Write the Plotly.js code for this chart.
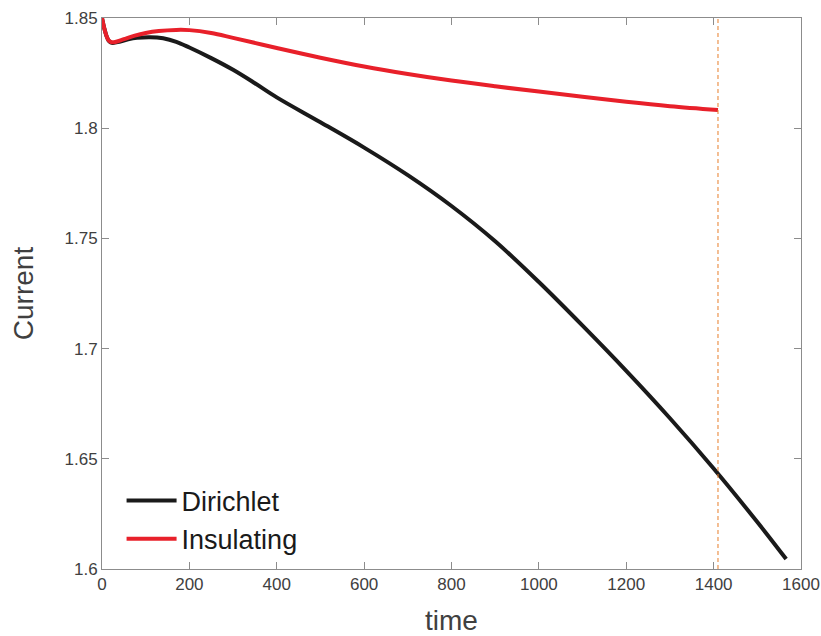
<!DOCTYPE html>
<html>
<head>
<meta charset="utf-8">
<script src="https://cdn.plot.ly/plotly-3.0.1.min.js"></script>
<style>html,body{margin:0;padding:0;background:#fff;}#chart{width:821px;height:636px;}</style>
</head>
<body>
<div id="chart"></div>
<script>
const dirichletTime = [0, 5, 10, 15, 20, 25, 40, 60, 80, 110, 140, 170, 200, 250, 300, 350, 400, 500, 600, 700, 800, 900, 1000, 1100, 1200, 1300, 1400, 1500, 1566];
const dirichletCurrent = [1.8500, 1.8455, 1.8420, 1.8398, 1.8389, 1.8387, 1.8392, 1.8403, 1.8410, 1.8413, 1.8408, 1.8392, 1.8366, 1.8318, 1.8265, 1.8204, 1.8140, 1.8027, 1.7912, 1.7787, 1.7647, 1.7487, 1.7302, 1.7104, 1.6899, 1.6684, 1.6456, 1.6213, 1.6045];
const insulatingTime = [0, 5, 10, 15, 20, 25, 30, 50, 75, 100, 130, 170, 200, 250, 300, 400, 500, 600, 700, 800, 900, 1000, 1100, 1200, 1300, 1410];
const insulatingCurrent = [1.8500, 1.8455, 1.8420, 1.8399, 1.8392, 1.8390, 1.8391, 1.8404, 1.8420, 1.8432, 1.8441, 1.8446, 1.8445, 1.8432, 1.8410, 1.8364, 1.8320, 1.8280, 1.8246, 1.8216, 1.8190, 1.8166, 1.8143, 1.8120, 1.8100, 1.8083];
const markerTime = [1410];
const xTicks = [0, 200, 400, 600, 800, 1000, 1200, 1400, 1600];
const yTicks = [1.6, 1.65, 1.7, 1.75, 1.8, 1.85];

const font = "'Liberation Sans', Arial, Helvetica, sans-serif";
const axisCommon = {
  showgrid: false, zeroline: false, showline: true, mirror: 'ticks',
  linecolor: '#8c8c8c', linewidth: 1, ticks: 'inside', ticklen: 7, tickcolor: '#8c8c8c',
  tickfont: {family: font, size: 17, color: '#404040'}
};
const data = [
  {x: dirichletTime, y: dirichletCurrent, mode: 'lines', name: 'Dirichlet', line: {color: '#1a1a1a', width: 4, shape: 'spline', smoothing: 1}},
  {x: insulatingTime, y: insulatingCurrent, mode: 'lines', name: 'Insulating', line: {color: '#e8202a', width: 4, shape: 'spline', smoothing: 1}}
];
const layout = {
  width: 821, height: 636,
  margin: {l: 102, r: 20, t: 18, b: 67},
  paper_bgcolor: '#fff', plot_bgcolor: '#fff',
  showlegend: true,
  legend: {x: 0.028, y: 0.01, xanchor: 'left', yanchor: 'bottom', bgcolor: 'rgba(0,0,0,0)',
    font: {family: font, size: 27, color: '#1a1a1a'}, itemwidth: 50, tracegroupgap: 0},
  xaxis: Object.assign({}, axisCommon, {range: [0, 1600], tickvals: xTicks, ticktext: xTicks.map(String),
    title: {text: 'time', font: {family: font, size: 28, color: '#404040'}, standoff: 24}}),
  yaxis: Object.assign({}, axisCommon, {range: [1.6, 1.85], tickvals: yTicks, ticktext: yTicks.map(v => String(v)),
    title: {text: 'Current', font: {family: font, size: 28, color: '#404040'}, standoff: 22}}),
  shapes: markerTime.map(t => ({type: 'line', xref: 'x', yref: 'paper', x0: t, x1: t, y0: 0, y1: 1,
    line: {color: '#e87d2a', width: 1, dash: '4px,3px'}}))
};
Plotly.newPlot('chart', data, layout, {displayModeBar: false});
</script>
</body>
</html>
